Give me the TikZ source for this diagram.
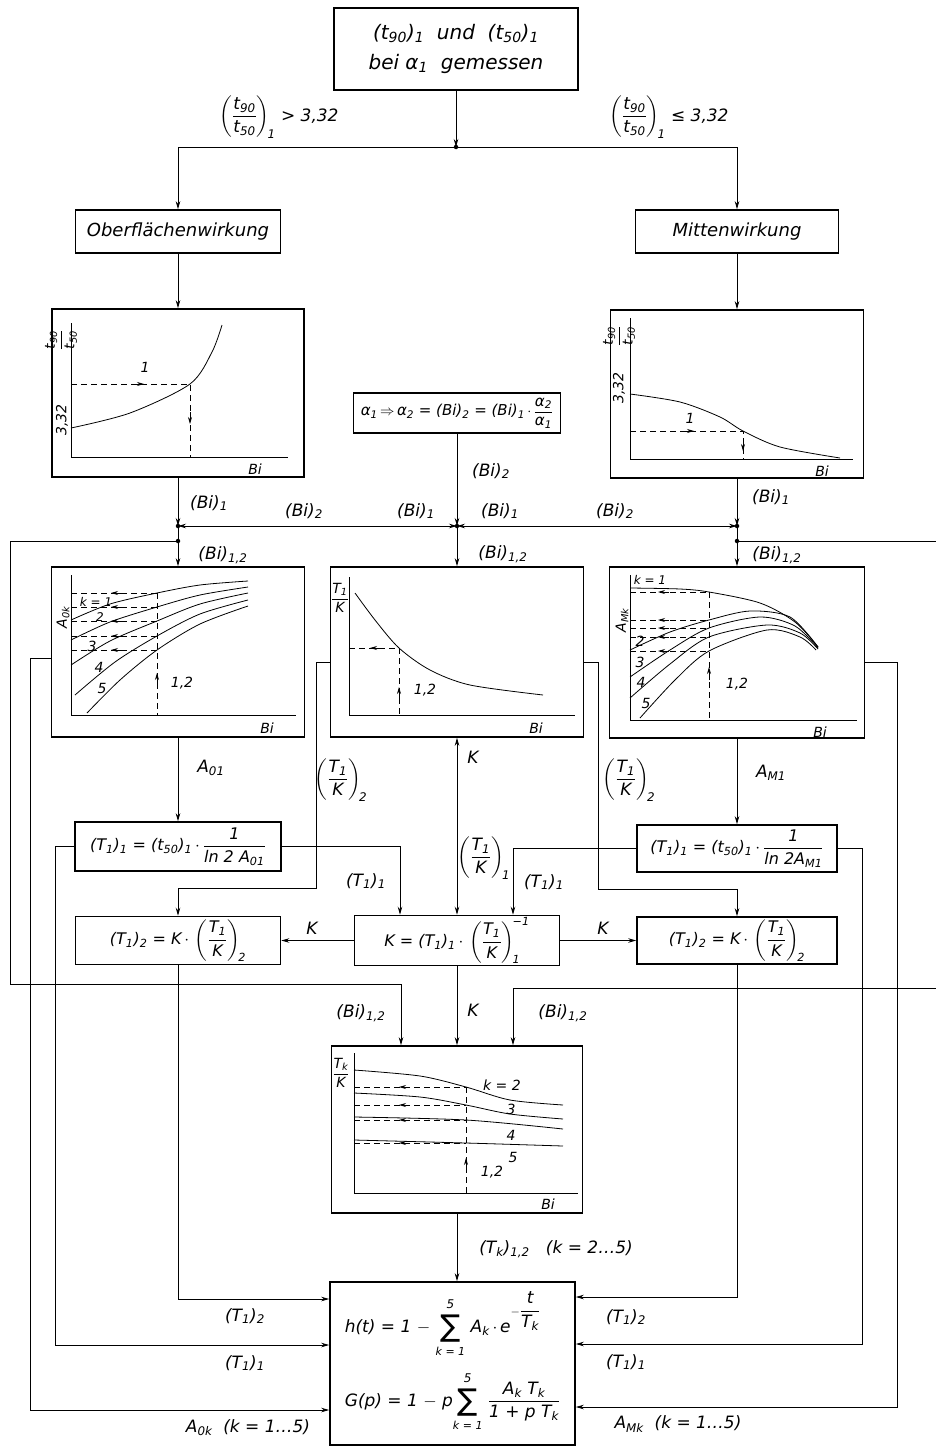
\documentclass[tikz,border=0pt]{standalone}
\usepackage{amsmath}
\usepackage{fontspec}
\setmainfont{DejaVu Sans}
\usetikzlibrary{arrows.meta}
\newcommand\sbs[1]{\textsubscript{#1}}
\newcommand\tx[1]{\text{#1}}
\newcommand\mysum{\begin{tabular}{@{}c@{}}{\fontsize{12}{12}\selectfont 5}\\[0pt]{\fontsize{30}{30}\selectfont\upshape ∑}\\[-1pt]{\fontsize{11}{11}\selectfont k = 1}\end{tabular}}
\begin{document}
\begin{tikzpicture}[x=1pt,y=-1pt,
 tbox/.style={draw, line width=1.6pt, inner sep=2pt, align=center, font=\fontsize{16}{19}\selectfont\itshape},
 gbox/.style={draw, line width=1.6pt, inner sep=0pt},
 conn/.style={line width=0.8pt},
 arr/.style={conn, -{Stealth[length=8pt,width=4.5pt]}},
 dblarr/.style={conn, {Stealth[length=8pt,width=4.5pt]}-{Stealth[length=8pt,width=4.5pt]}},
 lab/.style={font=\fontsize{17}{19}\selectfont\itshape, inner sep=0pt},
 glab/.style={font=\fontsize{14}{16}\selectfont\itshape, inner sep=0pt},
 gaxis/.style={line width=0.9pt},
 gcurve/.style={line width=0.8pt},
 dsh/.style={line width=0.7pt, dash pattern=on 6pt off 4pt},
 mtip/.style={line width=0.7pt, -{Stealth[length=7pt,width=4pt]}},
 jdot/.style={circle, fill, inner sep=0pt, minimum size=4.5pt}]
\useasboundingbox (0,0) rectangle (936,1448);

% ---------- boxes ----------
\node[tbox, minimum width=244pt, minimum height=82pt, font=\fontsize{20}{30}\selectfont\itshape] (top) at (456,49)
 {(t\sbs{90})\sbs{1} \ und \ (t\sbs{50})\sbs{1}\\ bei α\sbs{1} \ gemessen};
\node[tbox, minimum width=205pt, minimum height=43pt, font=\fontsize{18}{20}\selectfont\itshape] (ober) at (178,231.5) {Oberflächenwirkung};
\node[tbox, minimum width=203pt, minimum height=43pt, font=\fontsize{18}{20}\selectfont\itshape] (mitte) at (737,231.5) {Mittenwirkung};
\node[gbox, minimum width=252pt, minimum height=168pt] (gL) at (178,393) {};
\node[gbox, minimum width=253pt, minimum height=168pt] (gR) at (737,394) {};
\node[tbox, minimum width=207pt, minimum height=40pt, inner sep=1pt, font=\fontsize{15}{17}\selectfont\itshape] (alpha) at (457,413)
 {α\sbs{1}$\,\Rightarrow\,$α\sbs{2} = (Bi)\sbs{2} = (Bi)\sbs{1}$\,\cdot\,\dfrac{\tx{α\sbs{2}}}{\tx{α\sbs{1}}}$};
\node[gbox, minimum width=253pt, minimum height=170pt] (g1) at (178,652) {};
\node[gbox, minimum width=253pt, minimum height=170pt] (g2) at (457,652) {};
\node[gbox, minimum width=255pt, minimum height=171pt] (g3) at (737,652.5) {};
\node[tbox, minimum width=206pt, minimum height=49pt] (f1L) at (178,846.5)
 {(T\sbs{1})\sbs{1} = (t\sbs{50})\sbs{1}$\,\cdot\,\dfrac{\tx{1}}{\tx{ln 2 A\sbs{01}}}$};
\node[tbox, minimum width=200pt, minimum height=47pt] (f1R) at (737,848.5)
 {(T\sbs{1})\sbs{1} = (t\sbs{50})\sbs{1}$\,\cdot\,\dfrac{\tx{1}}{\tx{ln 2A\sbs{M1}}}$};
\node[tbox, minimum width=205pt, minimum height=48pt] (f2L) at (178,940.5)
 {(T\sbs{1})\sbs{2} = K$\,\cdot\,\left(\dfrac{\tx{T\sbs{1}}}{\tx{K}}\right)_{\!\tx{2}}$};
\node[tbox, minimum width=205pt, minimum height=49pt] (fK) at (457,940.5)
 {K = (T\sbs{1})\sbs{1}$\,\cdot\,\left(\dfrac{\tx{T\sbs{1}}}{\tx{K}}\right)_{\!\tx{1}}^{\!\tx{−1}}$};
\node[tbox, minimum width=200pt, minimum height=47pt] (f2R) at (737,940.5)
 {(T\sbs{1})\sbs{2} = K$\,\cdot\,\left(\dfrac{\tx{T\sbs{1}}}{\tx{K}}\right)_{\!\tx{2}}$};
\node[gbox, minimum width=251pt, minimum height=167pt] (g4) at (457,1129.5) {};
\node[tbox, minimum width=245pt, minimum height=163pt, align=left, font=\fontsize{17}{20}\selectfont\itshape] (out) at (452.5,1363.5)
 {h(t) = 1 $-$ \mysum\ A\sbs{k}$\,\cdot\,$e$^{-\dfrac{\tx{t}}{\tx{T\sbs{k}}}}$\\[6pt]
  G(p) = 1 $-$ p\mysum\ $\dfrac{\tx{A\sbs{k} T\sbs{k}}}{\tx{1 + p T\sbs{k}}}$};

% ---------- coordinates ----------
\coordinate (J0) at (456,147);
\coordinate (BL) at (178,147);
\coordinate (BR) at (737,147);
\coordinate (JL) at (178,526);
\coordinate (JC) at (457,526);
\coordinate (JR) at (737,526);
\coordinate (JL2) at (178,541);
\coordinate (JR2) at (737,541);
\coordinate (LL1) at (10,541);
\coordinate (LL2) at (10,984);
\coordinate (LL3) at (401,984);
\coordinate (RR1) at (936,541);
\coordinate (RR2) at (936,988);
\coordinate (RR3) at (513,988);
\coordinate (A0a) at (30,658);
\coordinate (A0b) at (30,1410);
\coordinate (AMa) at (897,662);
\coordinate (AMb) at (897,1407);
\coordinate (TKa) at (316,662);
\coordinate (TKb) at (316,888);
\coordinate (TKd) at (598,662);
\coordinate (TKe) at (598,889);
\coordinate (xA) at (400,0);
\coordinate (xB) at (513,0);
\coordinate (xC) at (55,0);
\coordinate (yC) at (0,1345);
\coordinate (xD) at (862,0);
\coordinate (yD) at (0,1344);
\coordinate (yE) at (0,1299);
\coordinate (yF) at (0,1297);

% ---------- connectors ----------
\draw[arr] (top.south) -- (J0);
\draw[conn] (BL) -- (BR);
\draw[arr] (BL) -- (ober.north);
\draw[arr] (BR) -- (mitte.north);
\draw[arr] (ober.south) -- (gL.north);
\draw[arr] (mitte.south) -- (gR.north);
\draw[arr] (gL.south) -- (JL);
\draw[arr] (gR.south) -- (JR);
\draw[arr] (alpha.south) -- (JC);
\draw[dblarr] (JL) -- (JC);
\draw[dblarr] (JC) -- (JR);
\draw[arr] (JC) -- (g2.north);
\draw[conn] (JL) -- (JL2);
\draw[arr] (JL2) -- (g1.north);
\draw[conn] (JR) -- (JR2);
\draw[arr] (JR2) -- (g3.north);
\draw[arr] (JL2) -- (LL1) -- (LL2) -- (LL3) -- (LL3 |- g4.north);
\draw[conn] (JR2) -- (RR1);
\draw[arr] (RR2) -- (RR3) -- (RR3 |- g4.north);
\draw[arr] (g1.south) -- (f1L.north);
\draw[arr] (g3.south) -- (f1R.north);
\draw[arr] (g1.west |- A0a) -- (A0a) -- (A0b) -- (out.west |- A0b);
\draw[arr] (g3.east |- AMa) -- (AMa) -- (AMb) -- (out.east |- AMb);
\draw[arr] (g2.west |- TKa) -- (TKa) -- (TKb) -- (TKb -| f2L.north) -- (f2L.north);
\draw[arr] (g2.east |- TKd) -- (TKd) -- (TKe) -- (TKe -| f2R.north) -- (f2R.north);
\draw[dblarr] (g2.south) -- (fK.north);
\draw[arr] (f1L.east) -- (f1L.east -| xA) -- (xA |- fK.north);
\draw[arr] (f1R.west) -- (f1R.west -| xB) -- (xB |- fK.north);
\draw[arr] (fK.west) -- (f2L.east);
\draw[arr] (fK.east) -- (f2R.west);
\draw[arr] (f1L.west) -- (f1L.west -| xC) -- (xC |- yC) -- (out.west |- yC);
\draw[arr] (f1R.east) -- (f1R.east -| xD) -- (xD |- yD) -- (out.east |- yD);
\draw[arr] (f2L.south) -- (f2L.south |- yE) -- (out.west |- yE);
\draw[arr] (f2R.south) -- (f2R.south |- yF) -- (out.east |- yF);
\draw[arr] (fK.south) -- (g4.north);
\draw[arr] (g4.south) -- (g4.south |- out.north);

\foreach \p in {J0,JL,JC,JR,JL2,JR2} \node[jdot] (d\p) at (\p) {};

% ---------- labels ----------
\node[lab] (tl1) at (279,117) {$\left(\dfrac{\tx{t\sbs{90}}}{\tx{t\sbs{50}}}\right)_{\!\tx{1}}$ > 3,32};
\node[lab] (tl2) at (669,117) {$\left(\dfrac{\tx{t\sbs{90}}}{\tx{t\sbs{50}}}\right)_{\!\tx{1}}$ ≤ 3,32};
\node[lab] (lBi1L) at (209,503) {(Bi)\sbs{1}};
\node[lab] (lBi2L) at (304,511) {(Bi)\sbs{2}};
\node[lab] (lBi1cL) at (416,511) {(Bi)\sbs{1}};
\node[lab] (lBi1cR) at (500,511) {(Bi)\sbs{1}};
\node[lab] (lBi2R) at (615,511) {(Bi)\sbs{2}};
\node[lab] (lBi1R) at (771,497) {(Bi)\sbs{1}};
\node[lab] (lBi2c) at (491,471) {(Bi)\sbs{2}};
\node[lab] (lBi12c) at (503,554) {(Bi)\sbs{1,2}};
\node[lab] (lBi12L) at (223,555) {(Bi)\sbs{1,2}};
\node[lab] (lBi12R) at (777,555) {(Bi)\sbs{1,2}};
\node[lab] (lA01) at (211,768) {A\sbs{01}};
\node[lab] (lAM1) at (771,773) {A\sbs{M1}};
\node[lab] (lKup) at (473,757) {K};
\node[lab] (lTK2L) at (341,780) {$\left(\dfrac{\tx{T\sbs{1}}}{\tx{K}}\right)_{\!\tx{2}}$};
\node[lab] (lTK2R) at (629,780) {$\left(\dfrac{\tx{T\sbs{1}}}{\tx{K}}\right)_{\!\tx{2}}$};
\node[lab] (lTK1) at (484,858) {$\left(\dfrac{\tx{T\sbs{1}}}{\tx{K}}\right)_{\!\tx{1}}$};
\node[lab] (lT11L) at (366,881) {(T\sbs{1})\sbs{1}};
\node[lab] (lT11R) at (544,882) {(T\sbs{1})\sbs{1}};
\node[lab] (lKL) at (312,928) {K};
\node[lab] (lKR) at (603,928) {K};
\node[lab] (lBi12dL) at (361,1013) {(Bi)\sbs{1,2}};
\node[lab] (lKd) at (473,1010) {K};
\node[lab] (lBi12dR) at (563,1013) {(Bi)\sbs{1,2}};
\node[lab] (lTk) at (556,1249) {(T\sbs{k})\sbs{1,2} \ \ (k = 2\dots5)};
\node[lab] (lT12bL) at (245,1316) {(T\sbs{1})\sbs{2}};
\node[lab] (lT11bL) at (245,1363) {(T\sbs{1})\sbs{1}};
\node[lab] (lA0k) at (248,1428) {A\sbs{0k} \ (k = 1\dots5)};
\node[lab] (lT12bR) at (626,1317) {(T\sbs{1})\sbs{2}};
\node[lab] (lT11bR) at (626,1362) {(T\sbs{1})\sbs{1}};
\node[lab] (lAMk) at (678,1424) {A\sbs{Mk} \ (k = 1\dots5)};

% ---------- graph gL ----------
\draw[gaxis] (71,323) -- (71,457) -- (288,457);
\draw[gcurve] plot[smooth] coordinates {(71,428) (130,413) (190,384) (212,352) (222,325)};
\draw[dsh] (71,384) -- (190,384) -- (190,457);
\draw[mtip] (133,384) -- (144,384);
\draw[mtip] (190,412) -- (190,424);
\node[glab] (gL1) at (145,367) {1};
\node[glab] (gLBi) at (255,469) {Bi};
\node[glab, rotate=90] (gLy) at (61,340) {$\dfrac{\tx{t\sbs{90}}}{\tx{t\sbs{50}}}$};
\node[glab, rotate=90] (gLv) at (62,420) {3,32};

% ---------- graph gR ----------
\draw[gaxis] (630,318) -- (630,459) -- (853,459);
\draw[gcurve] plot[smooth] coordinates {(630,394) (680,402) (720,417) (743,431) (780,447) (840,458)};
\draw[dsh] (630,431) -- (743,431) -- (743,459);
\draw[mtip] (683,431) -- (694,431);
\draw[mtip] (743,439) -- (743,451);
\node[glab] (gR1) at (690,418) {1};
\node[glab] (gRBi) at (822,471) {Bi};
\node[glab, rotate=90] (gRy) at (619,336) {$\dfrac{\tx{t\sbs{90}}}{\tx{t\sbs{50}}}$};
\node[glab, rotate=90] (gRv) at (619,388) {3,32};

% ---------- graph g1 ----------
\draw[gaxis] (71,575) -- (71,715) -- (296,715);
\draw[gcurve] plot[smooth] coordinates {(71,620) (110,604) (157,593) (200,585) (248,581)};
\draw[gcurve] plot[smooth] coordinates {(71,640) (110,622) (157,607) (200,595) (248,587)};
\draw[gcurve] plot[smooth] coordinates {(71,665) (110,641) (157,621) (200,604) (248,593)};
\draw[gcurve] plot[smooth] coordinates {(75,695) (115,662) (157,636) (200,614) (248,600)};
\draw[gcurve] plot[smooth] coordinates {(87,713) (120,680) (157,650) (200,624) (248,606)};
\foreach \y in {593,607,621,636,650} {
  \draw[dsh] (71,\y) -- (157,\y);
  \draw[mtip] (122,\y) -- (111,\y);
}
\draw[dsh] (157,593) -- (157,715);
\draw[mtip] (157,686) -- (157,673);
\node[glab, font=\fontsize{12}{14}\selectfont\itshape] (g1k1) at (96,602) {k = 1};
\node[glab, font=\fontsize{12}{14}\selectfont\itshape] (g1k2) at (100,617) {2};
\node[glab] (g1k3) at (92,646) {3};
\node[glab] (g1k4) at (99,667) {4};
\node[glab] (g1k5) at (102,688) {5};
\node[glab] (g112) at (182,683) {1,2};
\node[glab] (g1Bi) at (267,728) {Bi};
\node[glab, rotate=90] (g1y) at (63,617) {A\sbs{0k}};

% ---------- graph g2 ----------
\draw[gaxis] (349,577) -- (349,715) -- (575,715);
\draw[gcurve] plot[smooth] coordinates {(355,593) (375,620) (399,648) (430,670) (470,685) (543,695)};
\draw[dsh] (349,648) -- (399,648) -- (399,715);
\draw[mtip] (381,648) -- (370,648);
\draw[mtip] (399,700) -- (399,687);
\node[glab] (g212) at (425,690) {1,2};
\node[glab] (g2Bi) at (536,728) {Bi};
\node[glab] (g2y) at (340,598) {$\dfrac{\tx{T\sbs{1}}}{\tx{K}}$};

% ---------- graph g3 ----------
\draw[gaxis] (630,575) -- (630,720) -- (857,720);
\draw[gcurve] plot[smooth] coordinates {(630,588) (680,589) (709,592) (760,603) (795,622) (818,647)};
\draw[gcurve] plot[smooth] coordinates {(630,650) (670,632) (709,620) (750,611) (790,617) (818,647)};
\draw[gcurve] plot[smooth] coordinates {(630,677) (670,650) (709,628) (760,617) (795,626) (818,648)};
\draw[gcurve] plot[smooth] coordinates {(630,698) (670,664) (709,637) (767,625) (800,633) (818,649)};
\draw[gcurve] plot[smooth] coordinates {(640,718) (675,680) (709,651) (767,630) (800,637) (816,650)};
\foreach \y in {592,620,628,637,651} {
  \draw[dsh] (630,\y) -- (709,\y);
  \draw[mtip] (669,\y) -- (658,\y);
}
\draw[dsh] (709,592) -- (709,720);
\draw[mtip] (709,680) -- (709,667);
\node[glab, font=\fontsize{12}{14}\selectfont\itshape] (g3k1) at (650,580) {k = 1};
\node[glab] (g3k2) at (640,641) {2};
\node[glab] (g3k3) at (640,662) {3};
\node[glab] (g3k4) at (641,682) {4};
\node[glab] (g3k5) at (646,703) {5};
\node[glab] (g312) at (737,684) {1,2};
\node[glab] (g3Bi) at (820,732) {Bi};
\node[glab, rotate=90] (g3y) at (622,620) {A\sbs{Mk}};

% ---------- graph g4 ----------
\draw[gaxis] (354,1053) -- (354,1193) -- (578,1193);
\draw[gcurve] plot[smooth] coordinates {(354,1070) (420,1076) (466,1087) (510,1100) (563,1105)};
\draw[gcurve] plot[smooth] coordinates {(354,1093) (420,1097) (466,1105) (510,1114) (563,1119)};
\draw[gcurve] plot[smooth] coordinates {(354,1117) (466,1120) (563,1129)};
\draw[gcurve] plot[smooth] coordinates {(354,1140) (466,1143) (563,1146)};
\foreach \y in {1087,1105,1120,1143} {
  \draw[dsh] (354,\y) -- (466,\y);
  \draw[mtip] (410,\y) -- (399,\y);
}
\draw[dsh] (466,1087) -- (466,1193);
\draw[mtip] (466,1171) -- (466,1158);
\node[glab] (g4k2) at (502,1085) {k = 2};
\node[glab] (g4k3) at (511,1109) {3};
\node[glab] (g4k4) at (511,1135) {4};
\node[glab] (g4k5) at (513,1157) {5};
\node[glab] (g412) at (492,1172) {1,2};
\node[glab] (g4Bi) at (548,1204) {Bi};
\node[glab] (g4y) at (341,1073) {$\dfrac{\tx{T\sbs{k}}}{\tx{K}}$};
\end{tikzpicture}
\end{document}
